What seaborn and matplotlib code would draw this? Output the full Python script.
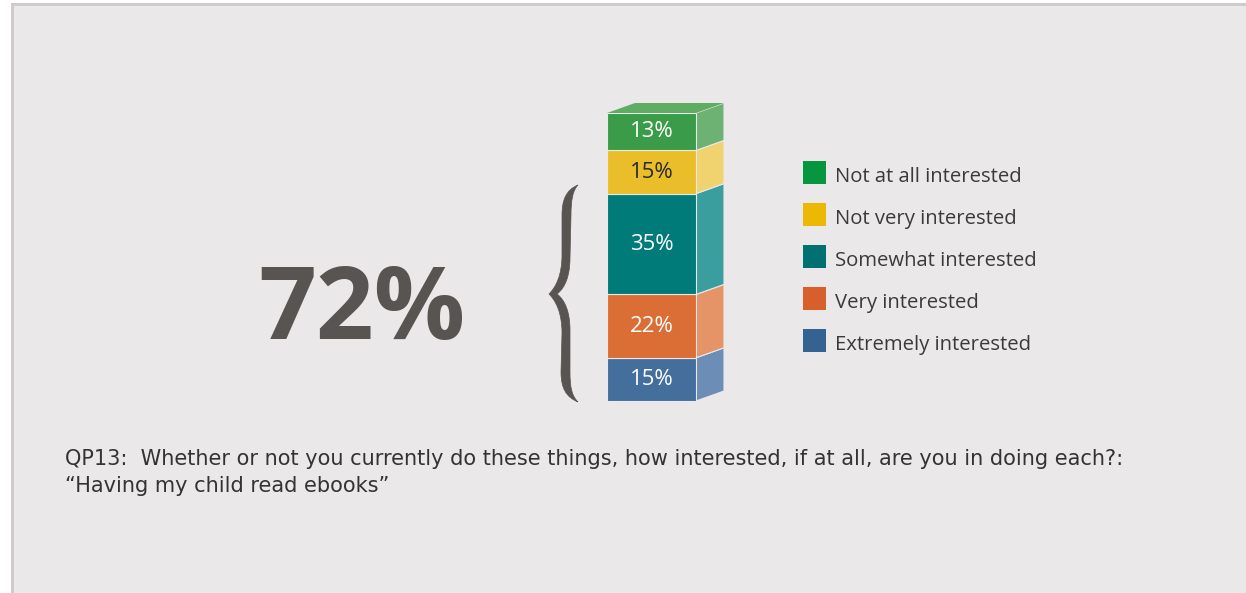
import matplotlib
matplotlib.use("Agg")
import matplotlib.pyplot as plt
import seaborn as sns
import numpy as np
import pandas as pd
from matplotlib.patches import Rectangle, Polygon, PathPatch
from matplotlib.path import Path

# ---------------- data ----------------
categories = ["Extremely interested", "Very interested", "Somewhat interested",
              "Not very interested", "Not at all interested"]
values = [15, 22, 35, 15, 13]
labels = ["15%", "22%", "35%", "15%", "13%"]
headline = "72%"
caption = ["QP13:  Whether or not you currently do these things, how interested, if at all, are you in doing each?:",
           "\u201cHaving my child read ebooks\u201d"]

front_colors = ["#446E9C", "#DB6E35", "#007B7A", "#EABE2A", "#3A9B48"]
side_colors = ["#6C8DB6", "#E49467", "#3A9E9E", "#F0D26E", "#6DB272"]
top_color = "#5EAD63"
legend_colors = ["#346391", "#D75F2B", "#007070", "#EBB806", "#05963F"]
label_colors = ["white", "white", "white", "#2A2A2A", "white"]

W, H = 1246, 593
sns.set_theme(style="white")
plt.rcParams["font.family"] = ["Open Sans", "DejaVu Sans"]

fig = plt.figure(figsize=(W / 100, H / 100), dpi=100, facecolor="white")


def fx(x):
    return x / W


def fy(y):
    return 1 - y / H


# panel background with border
fig.add_artist(Rectangle((fx(11), 0), 1 - fx(11), fy(3), transform=fig.transFigure,
                         facecolor="#CFCACC", edgecolor="none", zorder=-10))
fig.add_artist(Rectangle((fx(14), 0), 1 - fx(14), fy(6), transform=fig.transFigure,
                         facecolor="#EAE8E9", edgecolor="none", zorder=-9))

# ---------------- 3D stacked bar ----------------
bar_l, bar_r, bar_b, bar_t = 607, 696, 401, 113
depth_px_x, depth_px_y = 28, 10
ax = fig.add_axes([fx(bar_l), fy(bar_b), (bar_r - bar_l + depth_px_x) / W, (bar_b - bar_t) / H])
ax.patch.set_alpha(0)

df = pd.DataFrame({"q": ["Q"] * len(values), "level": categories, "value": values})
bottoms = np.concatenate([[0], np.cumsum(values)[:-1]])
for i in range(len(values)):
    sns.barplot(data=df.iloc[[i]], x="q", y="value", bottom=bottoms[i], color=front_colors[i],
                saturation=1, width=1, ax=ax, edgecolor="#EAE8E9", linewidth=0.8, zorder=2)

dx = depth_px_x / (bar_r - bar_l)
total = sum(values)
dy = depth_px_y / (bar_b - bar_t) * total
for i in range(len(values)):
    b, t = bottoms[i], bottoms[i] + values[i]
    ax.add_patch(Polygon([(0.5, b), (0.5 + dx, b + dy), (0.5 + dx, t + dy), (0.5, t)],
                         closed=True, facecolor=side_colors[i], edgecolor="#EAE8E9",
                         linewidth=0.8, clip_on=False, zorder=1))
ax.add_patch(Polygon([(-0.5, total), (0.5, total), (0.5 + dx, total + dy), (-0.5 + dx, total + dy)],
                     closed=True, facecolor=top_color, edgecolor="none", clip_on=False, zorder=1))

for i in range(len(values)):
    ax.text(0, bottoms[i] + values[i] / 2, labels[i], ha="center", va="center",
            color=label_colors[i], fontsize=16, fontweight="medium", zorder=5)

ax.set_xlim(-0.5, 0.5 + dx)
ax.set_ylim(0, total)
ax.axis("off")

# ---------------- headline and brace ----------------
fig.text(fx(362), fy(339), headline, ha="center", va="baseline", fontsize=73,
         fontweight="bold", color="#575452")

pts = [(578, 185),
       (566, 190), (562, 200), (562, 215),
       (562, 255),
       (562, 275), (556, 287), (549, 294),
       (556, 301), (562, 313), (562, 333),
       (561, 372),
       (561, 388), (566, 397), (578, 402),
       (572, 396), (570, 388), (570, 372),
       (570, 330),
       (570, 312), (565, 300), (557, 294),
       (565, 288), (570, 276), (570, 258),
       (571, 215),
       (571, 200), (573, 190), (578, 185),
       (578, 185)]
codes = ([Path.MOVETO] + [Path.CURVE4] * 3 + [Path.LINETO] + [Path.CURVE4] * 6 + [Path.LINETO]
         + [Path.CURVE4] * 6 + [Path.LINETO] + [Path.CURVE4] * 6 + [Path.LINETO]
         + [Path.CURVE4] * 3 + [Path.CLOSEPOLY])
brace = Path([(fx(x), fy(y)) for x, y in pts], codes)
fig.add_artist(PathPatch(brace, transform=fig.transFigure, facecolor="#575452",
                         edgecolor="#575452", linewidth=0.5))

# ---------------- legend ----------------
leg_top = 161
leg_step = 42
for j, i in enumerate(reversed(range(len(categories)))):
    y0 = leg_top + j * leg_step
    fig.add_artist(Rectangle((fx(803), fy(y0 + 23)), 23 / W, 23 / H, transform=fig.transFigure,
                             facecolor=legend_colors[i], edgecolor="none"))
    fig.text(fx(835), fy(y0 + 21), categories[i], ha="left", va="baseline",
             fontsize=14.6, color="#3A3A3A")

# ---------------- caption ----------------
for k, line in enumerate(caption):
    fig.text(fx(65), fy(465 + k * 27), line, ha="left", va="baseline",
             fontsize=15, color="#333333", family=["DejaVu Sans"])

fig.savefig("out.png", dpi=100, facecolor="white")
